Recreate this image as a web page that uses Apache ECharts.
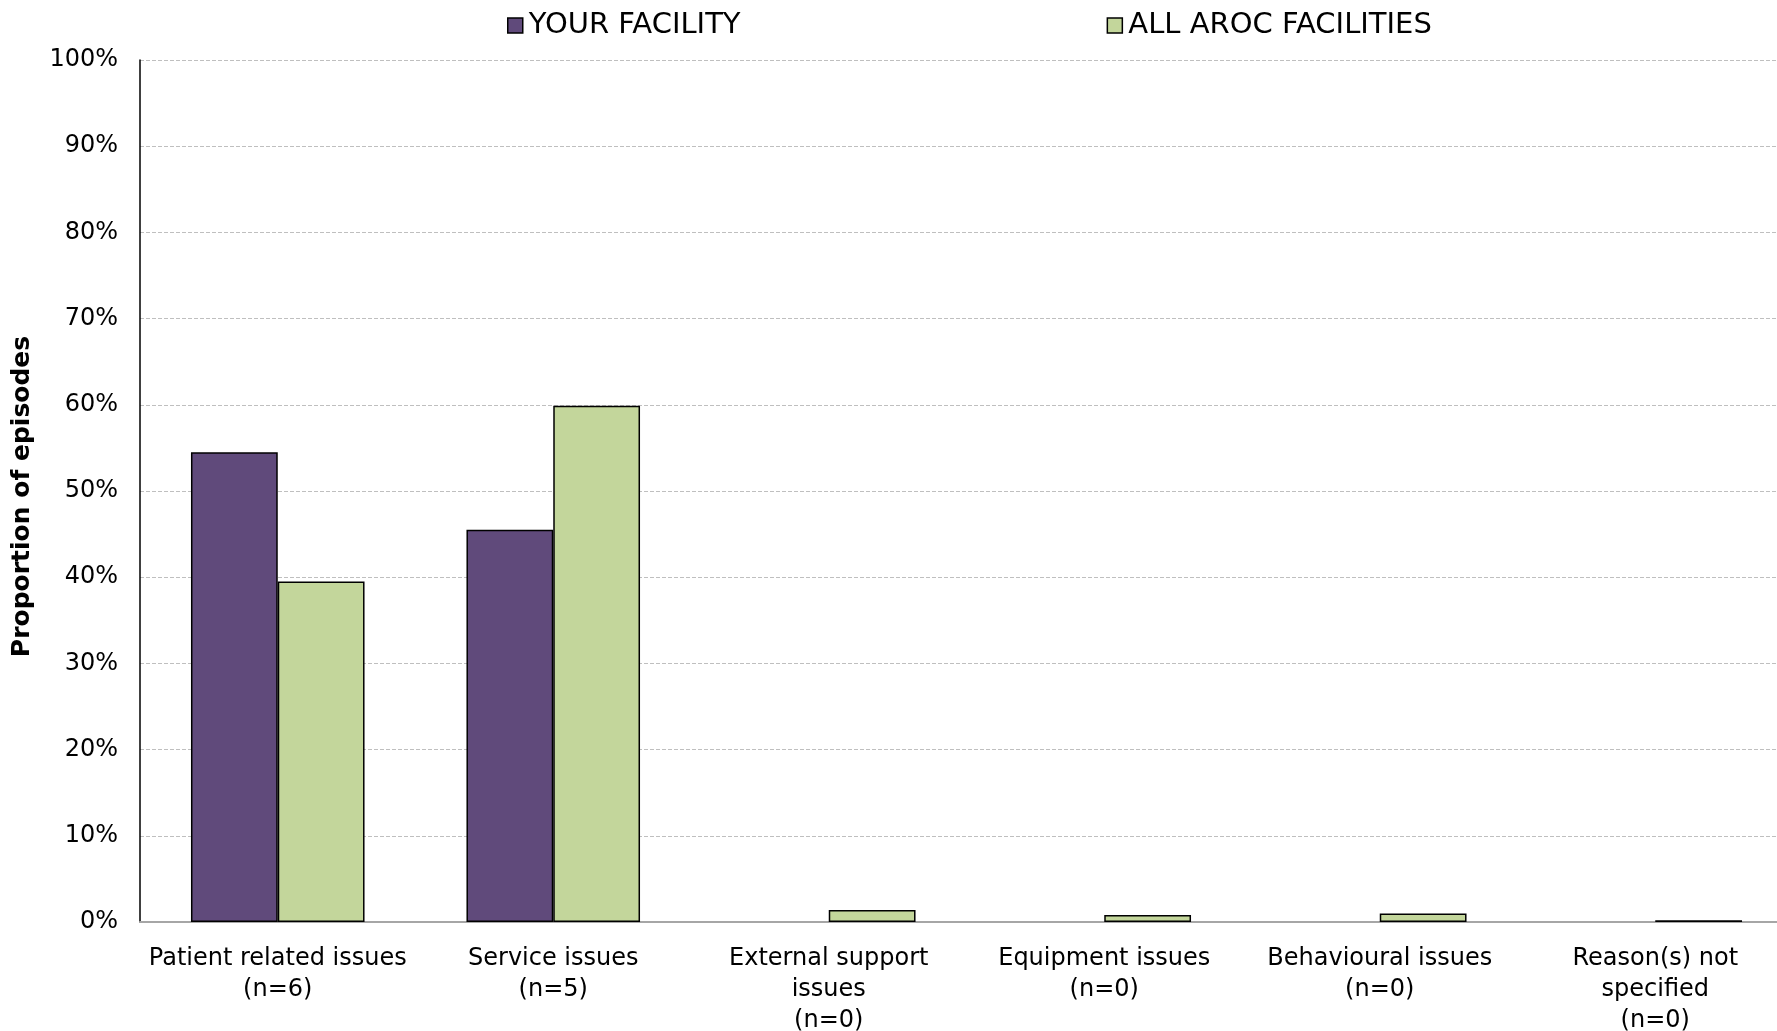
<!DOCTYPE html>
<html>
<head>
<meta charset="utf-8">
<script src="https://cdn.jsdelivr.net/npm/echarts@6/dist/echarts.min.js"></script>
<style>
html,body{margin:0;padding:0;background:#fff;}
#chart{width:1777px;height:1031px;}
</style>
</head>
<body>
<div id="chart"></div>
<script>
var categories = ['Patient related issues\n(n=6)', 'Service issues\n(n=5)', 'External support\nissues\n(n=0)', 'Equipment issues\n(n=0)', 'Behavioural issues\n(n=0)', 'Reason(s) not\nspecified\n(n=0)'];
var yourFacility = [54.5, 45.5, 0, 0, 0, 0];
var allFacilities = [39.5, 59.9, 1.4, 0.8, 1.0, 0.2];
var yTicks = [0, 10, 20, 30, 40, 50, 60, 70, 80, 90, 100];

var fontName = '"DejaVu Sans", Verdana, sans-serif';

// zero bars get no outline, like the original
function barData(values){
    return values.map(function(v){
        return {value: v, itemStyle: {borderWidth: v === 0 ? 0 : 1.5}};
    });
}

var option = {
    backgroundColor: '#fff',
    animation: false,
    legend: {
        top: 11,
        left: 507,
        padding: 0,
        icon: 'rect',
        itemGap: 366,
        itemWidth: 15,
        itemHeight: 15,
        itemStyle: {borderColor: '#000', borderWidth: 1.5},
        textStyle: {color: '#000', fontSize: 29, fontFamily: fontName, padding: [0, 0, 0, 1]},
        data: ['YOUR FACILITY', 'ALL AROC FACILITIES']
    },
    // the plot runs a little past the right edge of the picture
    grid: {left: 140, top: 60, right: -16, bottom: 109, containLabel: false, outerBoundsMode: 'none'},
    xAxis: {
        type: 'category',
        data: categories,
        axisLine: {lineStyle: {color: '#a6a6a6', width: 2}},
        axisTick: {show: false},
        axisLabel: {
            color: '#000',
            fontSize: 24,
            fontFamily: fontName,
            lineHeight: 31,
            margin: 21,
            interval: 0
        }
    },
    yAxis: {
        type: 'value',
        min: 0,
        max: 100,
        interval: 10,
        name: 'Proportion of episodes',
        nameLocation: 'middle',
        nameGap: 105,
        nameTextStyle: {color: '#000', fontSize: 25, fontWeight: 'bold', fontFamily: fontName, padding: [0, 11, 0, 0]},
        axisLine: {show: true, lineStyle: {color: '#000', width: 1.5}},
        axisTick: {show: false},
        axisLabel: {
            color: '#000',
            fontSize: 24,
            fontFamily: fontName,
            margin: 22,
            formatter: function (v) { return yTicks.indexOf(v) >= 0 ? v + '%' : ''; }
        },
        splitLine: {lineStyle: {color: '#bfbfbf', type: [4, 2], width: 1.2}}
    },
    series: [
        {
            name: 'YOUR FACILITY',
            type: 'bar',
            data: barData(yourFacility),
            barGap: '0%',
            barCategoryGap: '37%',
            itemStyle: {color: '#604a7b', borderColor: '#000', borderWidth: 1.5}
        },
        {
            name: 'ALL AROC FACILITIES',
            type: 'bar',
            data: barData(allFacilities),
            barGap: '0%',
            barCategoryGap: '37%',
            itemStyle: {color: '#c3d69b', borderColor: '#000', borderWidth: 1.5}
        }
    ]
};

var myChart = echarts.init(document.getElementById('chart'));
myChart.setOption(option);
</script>
</body>
</html>
